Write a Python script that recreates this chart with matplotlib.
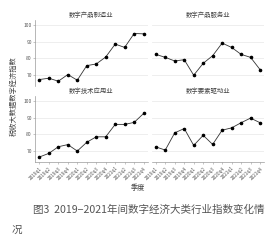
#encoding=utf-8

import numpy as np
import matplotlib
matplotlib.use("Agg")
import matplotlib.pyplot as plt

plt.rcParams['font.family'] = ['Noto Sans CJK SC', 'DejaVu Sans']

quarters = ["2019q1", "2019q2", "2019q3", "2019q4",
            "2020q1", "2020q2", "2020q3", "2020q4",
            "2021q1", "2021q2", "2021q3", "2021q4"]

titles = ["数字产品制造业", "数字产品服务业", "数字技术应用业", "数字要素驱动业"]

manufacture = [67.2, 68.0, 66.2, 70.2, 66.8, 75.6, 76.6, 80.8, 88.6, 86.6, 95.0, 94.8]
service = [82.4, 80.6, 78.4, 79.2, 69.8, 77.0, 81.6, 89.2, 86.6, 82.4, 80.6, 73.2]
tech_app = [66.2, 68.4, 72.4, 73.7, 69.8, 75.1, 78.4, 78.4, 85.9, 85.9, 87.1, 92.5]
factor_drive = [72.3, 70.4, 80.8, 83.4, 73.2, 79.3, 73.8, 82.4, 83.8, 86.9, 89.7, 86.9]

yticks = [70, 80, 90, 100]


def main():
    fig = plt.figure(figsize=(2.77, 2.40), dpi=100)
    series = [manufacture, service, tech_app, factor_drive]
    # 面板位置
    lefts = [0.1274, 0.5477]
    bottoms = [0.6396, 0.3237]
    w, h = 0.4058, 0.276
    x = np.arange(len(quarters))
    for i in range(4):
        r, c = i // 2, i % 2
        ax = fig.add_axes([lefts[c], bottoms[r], w, h])
        ax.plot(x, series[i], color="#333333", linewidth=0.6, marker="o",
                markersize=1.6, markerfacecolor="black", markeredgecolor="black",
                zorder=3)
        ax.set_xlim(-0.43, 11.43)
        ax.set_ylim(63, 103)
        ax.set_yticks(yticks)
        ax.grid(axis="y", color="#ebebeb", linewidth=0.6)
        ax.set_axisbelow(True)
        for s in ["top", "right"]:
            ax.spines[s].set_visible(False)
        ax.spines["left"].set_color("#9a9a9a")
        ax.spines["bottom"].set_color("#9a9a9a")
        ax.spines["left"].set_linewidth(0.5)
        ax.spines["bottom"].set_linewidth(0.5)
        ax.tick_params(colors="#9a9a9a", length=1.5, width=0.4,
                       labelsize=3.6, labelcolor="#555555", pad=1)
        ax.set_xticks(x)
        if c == 1:
            ax.spines["left"].set_visible(False)
            ax.tick_params(axis="y", left=False, labelleft=False)
        if r == 0:
            ax.spines["bottom"].set_visible(False)
            ax.tick_params(axis="x", bottom=False, labelbottom=False)
        else:
            ax.set_xticklabels(quarters, rotation=45, ha="right",
                               rotation_mode="anchor", fontsize=3.4)
        ax.set_title(titles[i], fontsize=4.6, color="#444444", pad=2.5)

    fig.text(0.048, 0.60, "税收大数据数字经济指数", rotation=90, fontsize=5.2,
             color="#444444", ha="center", va="center")
    fig.text(0.498, 0.215, "季度", fontsize=5.2, color="#444444",
             ha="center", va="center")
    fig.text(0.119, 0.125, "图3  2019−2021年间数字经济大类行业指数变化情",
             fontsize=7.6, color="#555555", ha="left", va="center")
    fig.text(0.040, 0.042, "况", fontsize=7.6, color="#555555",
             ha="left", va="center")
    fig.savefig("out.png", dpi=100)


if __name__ == '__main__':
    main()
